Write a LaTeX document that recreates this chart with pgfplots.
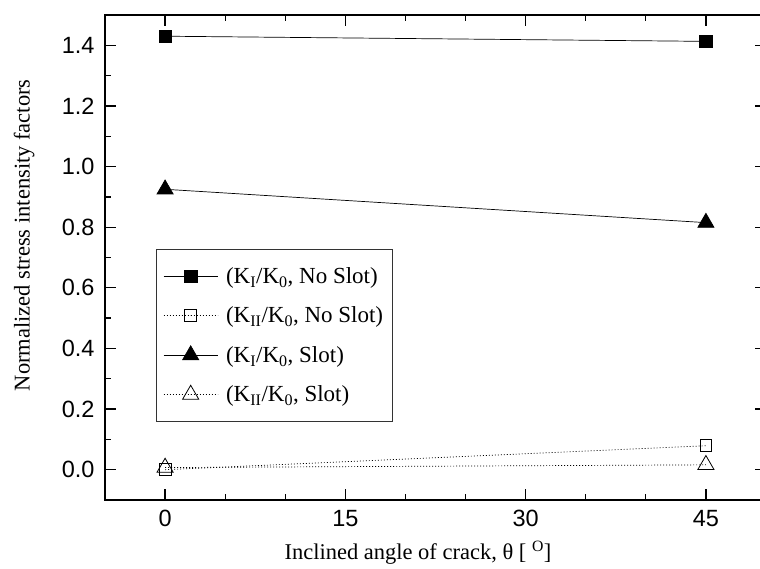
\documentclass[border=0pt]{standalone}
\usepackage{fontspec}
\setmainfont{Liberation Serif}
\newfontfamily\arialfont{Liberation Sans}
\usepackage{pgfplots}
\pgfplotsset{compat=1.18}

\begin{document}
\begin{tikzpicture}
\begin{axis}[
    scale only axis,
    width=661pt, height=485pt,
    xmin=-5, xmax=50,
    ymin=-0.1, ymax=1.5,
    xtick={0,15,30,45},
    minor xtick={5,10,20,25,35,40},
    ytick={0,0.2,...,1.4},
    minor ytick={0.1,0.3,...,1.3},
    tick align=inside,
    major tick length=11pt,
    minor tick length=6pt,
    every tick/.style={black, line width=1.3pt},
    axis line style={line width=1.7pt},
    /pgf/number format/assume math mode=true,
    yticklabel={\pgfmathprintnumber[fixed,fixed zerofill,precision=1]{\tick}},
    xticklabel={\pgfmathprintnumber[fixed,precision=0]{\tick}},
    yticklabel style={font=\fontsize{23.5}{23.5}\arialfont, xshift=-7pt},
    xticklabel style={font=\fontsize{23.5}{23.5}\arialfont, yshift=-7pt},
    xlabel={Inclined angle of crack, θ [ \textsuperscript{O}]},
    ylabel={Normalized stress intensity factors},
    xlabel style={font=\fontsize{22.5}{22.5}\selectfont, at={(axis description cs:0.4735,-0.109)}, anchor=center},
    ylabel style={font=\fontsize{22.5}{22.5}\selectfont, at={(axis description cs:-0.1225,0.546)}, anchor=center},
    legend style={
        at={(axis description cs:0.077,0.5175)}, anchor=north west,
        font=\fontsize{23}{23}\selectfont,
        draw=black!80, line width=0.9pt,
        row sep=18pt, inner xsep=7pt, inner ysep=16pt,
        cells={anchor=west},
        /tikz/every odd column/.append style={column sep=6pt},
    },
    legend image code/.code={%
        \draw[mark repeat=2,mark phase=2] plot coordinates {(0pt,0pt) (27pt,0pt) (54pt,0pt)};},
]
\addplot[black, line width=0.7pt, mark=square*, mark size=6.2pt, mark options={solid}] coordinates {
    (0,1.430) (45,1.413)
};
\addlegendentry{(K\textsubscript{I}/K\textsubscript{0}, No Slot)}
\addplot[black, line width=0.7pt, dash pattern=on 1pt off 2pt, mark=square, mark size=5.9pt, mark options={solid, fill=white, line width=0.8pt}] coordinates {
    (0,0.000) (45,0.079)
};
\addlegendentry{(K\textsubscript{II}/K\textsubscript{0}, No Slot)}
\addplot[black, line width=0.7pt, mark=triangle*, mark size=9.3pt, mark options={solid}] coordinates {
    (0,0.925) (45,0.815)
};
\addlegendentry{(K\textsubscript{I}/K\textsubscript{0}, Slot)}
\addplot[black, line width=0.7pt, dash pattern=on 1pt off 2pt, mark=triangle, mark size=9.3pt, mark options={solid, fill=white, line width=0.8pt}] coordinates {
    (0,0.007) (45,0.016)
};
\addlegendentry{(K\textsubscript{II}/K\textsubscript{0}, Slot)}
\end{axis}
\pgfresetboundingbox
\useasboundingbox (-105pt,-69pt) rectangle (655pt,500pt);
\end{tikzpicture}
\end{document}
